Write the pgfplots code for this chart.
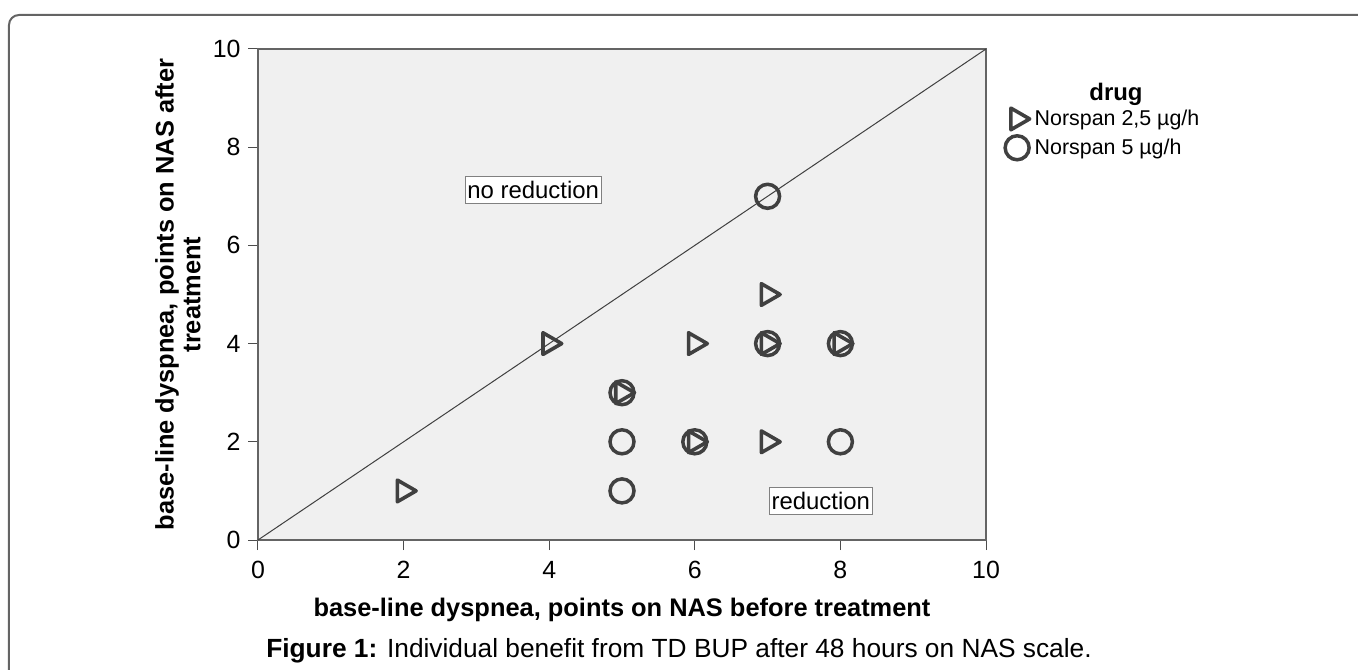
\documentclass[border=0pt]{standalone}
\usepackage{fontspec}
\setmainfont{Liberation Sans}
\usepackage{pgfplots}
\pgfplotsset{compat=1.18}
\definecolor{bgfill}{RGB}{240,240,240}
\definecolor{mk}{RGB}{64,64,64}
\definecolor{frm}{RGB}{100,100,100}
\begin{document}
\begin{tikzpicture}
\begin{axis}[
  name=ax,
  at={(0,0)}, anchor=south west,
  scale only axis,
  width=728bp, height=491bp,
  xmin=0, xmax=10, ymin=0, ymax=10,
  xtick={0,2,4,6,8,10}, ytick={0,2,4,6,8,10},
  tick align=outside, tick pos=left,
  major tick length=10bp,
  tick style={black!70, line width=1bp},
  axis line style={frm, line width=1.2bp},
  axis background/.style={fill=bgfill},
  /pgf/number format/assume math mode=true,
  ticklabel style={font=\fontsize{25}{29}\selectfont, text=black},
  xticklabel style={yshift=-8bp},
  yticklabel style={xshift=-4bp},
  xlabel={base-line dyspnea, points on NAS before treatment},
  ylabel={base-line dyspnea, points on NAS after\\treatment},
  label style={font=\bfseries\fontsize{25.5}{27}\selectfont},
  xlabel style={at={(axis description cs:0.5,-0.1426)}, anchor=center},
  ylabel style={at={(axis description cs:-0.11,0.5)}, anchor=center, align=center},
  legend style={at={(axis description cs:1.026,0.880)}, anchor=north west, draw=none, fill=none, font=\fontsize{21.5}{25}\selectfont, row sep=6bp, inner sep=0pt},
  legend cell align=left,
  legend image code/.code={\draw[mark repeat=2,mark phase=2,#1] plot coordinates {(0bp,0bp)(14bp,0bp)(28bp,0bp)};},
  clip=false,
]
\addplot[black!75, line width=1bp, forget plot] coordinates {(0,0) (10,10)};
\addplot[only marks, mark=triangle, mark size=12.5bp, mark options={rotate=-90, draw=mk, line width=3.6bp, fill=none, line join=round}] coordinates {
(2,1) (4,4) (6,4) (7,5) (7,4) (8,4) (5,3) (6,2) (7,2)
};
\addlegendentry{\hspace{3bp}Norspan 2,5 µg/h}
\addplot[only marks, mark=o, mark size=12bp, mark options={draw=mk, line width=3.5bp, fill=none}] coordinates {
(7,7) (7,4) (8,4) (5,3) (5,2) (6,2) (8,2) (5,1)
};
\addlegendentry{\hspace{3bp}Norspan 5 µg/h}
\node[draw=gray, fill=white, inner xsep=2bp, inner ysep=4.5bp, font=\fontsize{24}{28}\selectfont] at (axis cs:3.78,7.13) {no reduction};
\node[draw=gray, fill=white, inner xsep=2bp, inner ysep=4.5bp, font=\fontsize{24}{28}\selectfont] at (axis cs:7.73,0.80) {reduction};
\end{axis}
\node[font=\bfseries\fontsize{24}{28}\selectfont] at (858bp,446bp) {drug};
\node[font=\fontsize{26.4}{30}\selectfont, anchor=center] at (421bp,-111bp) {\textbf{Figure 1:} Individual benefit from TD BUP after 48 hours on NAS scale.};
\draw[frm, line width=2bp, rounded corners=10bp] (-249bp,-140bp) -- (-249bp,525bp) -- (1110bp,525bp);
\pgfresetboundingbox
\path[use as bounding box] (-258bp,-130bp) rectangle (1100bp,540bp);
\end{tikzpicture}
\end{document}
